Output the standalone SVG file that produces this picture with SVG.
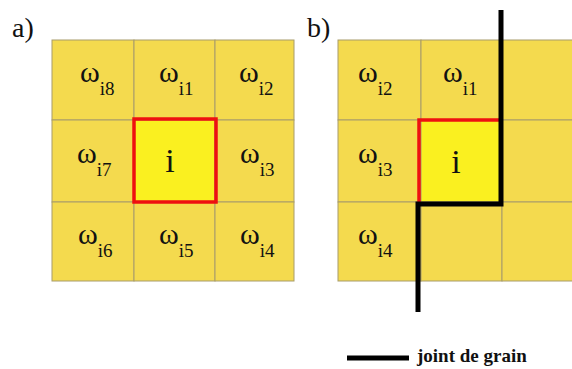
<svg xmlns="http://www.w3.org/2000/svg" width="572" height="369" viewBox="0 0 572 369">
<style>
.cell{fill:#F4DA4E;stroke:#A89C6A;stroke-width:1}
.ctr{fill:#FAF020}
text{font-family:"Liberation Serif","Times New Roman","DejaVu Serif",serif;fill:#111}
.w{font-size:30px}
.s{font-size:19px}
.red{fill:none;stroke:#EE1010;stroke-width:3.5}
.gb{fill:none;stroke:#000;stroke-width:5}
</style>
<rect width="572" height="369" fill="#fff"/>
<text x="12" y="37" font-size="28">a)</text>
<text x="307" y="37" font-size="28">b)</text>
<g id="gridA">
<g id="a8"><rect class="cell" x="52" y="40" width="82" height="80"/><text class="w" x="80" y="82">ω<tspan class="s" dy="13">i8</tspan></text></g>
<g id="a1"><rect class="cell" x="134" y="40" width="81" height="80"/><text class="w" x="159" y="82">ω<tspan class="s" dy="13">i1</tspan></text></g>
<g id="a2"><rect class="cell" x="215" y="40" width="79" height="80"/><text class="w" x="239" y="82">ω<tspan class="s" dy="13">i2</tspan></text></g>
<g id="a7"><rect class="cell" x="52" y="120" width="82" height="82"/><text class="w" x="77" y="163">ω<tspan class="s" dy="13">i7</tspan></text></g>
<g id="ai"><rect class="cell ctr" x="134" y="120" width="81" height="82"/><text x="170" y="172" font-size="34" text-anchor="middle">i</text></g>
<g id="a3"><rect class="cell" x="215" y="120" width="79" height="82"/><text class="w" x="240" y="163">ω<tspan class="s" dy="13">i3</tspan></text></g>
<g id="a6"><rect class="cell" x="52" y="202" width="82" height="79"/><text class="w" x="78" y="244">ω<tspan class="s" dy="13">i6</tspan></text></g>
<g id="a5"><rect class="cell" x="134" y="202" width="81" height="79"/><text class="w" x="159" y="244">ω<tspan class="s" dy="13">i5</tspan></text></g>
<g id="a4"><rect class="cell" x="215" y="202" width="79" height="79"/><text class="w" x="240" y="244">ω<tspan class="s" dy="13">i4</tspan></text></g>
<rect class="red" x="134" y="119" width="82" height="83"/>
</g>
<g id="gridB">
<g id="b2"><rect class="cell" x="338" y="40" width="83" height="80"/><text class="w" x="358" y="82">ω<tspan class="s" dy="13">i2</tspan></text></g>
<g id="b1"><rect class="cell" x="421" y="40" width="81" height="80"/><text class="w" x="443" y="82">ω<tspan class="s" dy="13">i1</tspan></text></g>
<g id="bR1"><rect class="cell" x="502" y="40" width="75" height="80"/></g>
<g id="b3"><rect class="cell" x="338" y="120" width="83" height="82"/><text class="w" x="358" y="163">ω<tspan class="s" dy="13">i3</tspan></text></g>
<g id="bi"><rect class="cell ctr" x="421" y="120" width="81" height="82"/><text x="456" y="173" font-size="34" text-anchor="middle">i</text></g>
<g id="bR2"><rect class="cell" x="502" y="120" width="75" height="82"/></g>
<g id="b4"><rect class="cell" x="338" y="202" width="83" height="79"/><text class="w" x="358" y="244">ω<tspan class="s" dy="13">i4</tspan></text></g>
<g id="bB"><rect class="cell" x="421" y="202" width="81" height="79"/></g>
<g id="bR3"><rect class="cell" x="502" y="202" width="75" height="79"/></g>
<polyline class="red" points="419,204 419,120 501,120"/>
</g>
<g id="connectors">
<polyline class="gb" points="501,10 501,204 418,204 418,312"/>
</g>
<g id="legend">
<line x1="347" y1="358" x2="409" y2="358" stroke="#000" stroke-width="5"/>
<text x="417" y="362" font-size="19" font-weight="bold">joint de grain</text>
</g>
</svg>
